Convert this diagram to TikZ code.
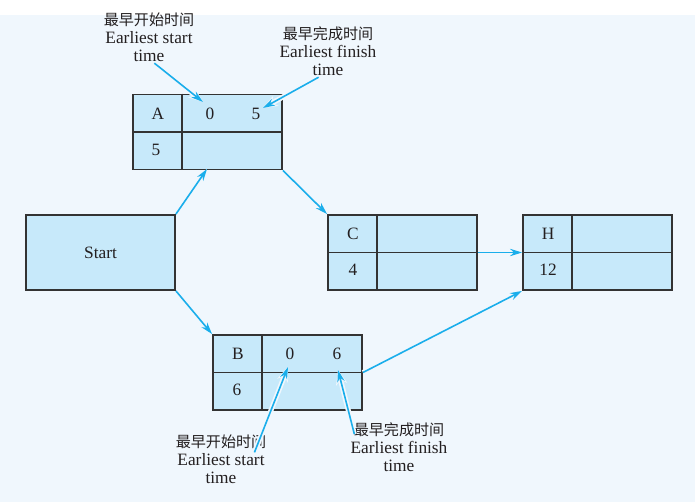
\documentclass[tikz,border=0pt]{standalone}
\usepackage{fontspec}
\setmainfont{Liberation Serif}
\newfontfamily\cjk{Noto Sans CJK SC}
\usetikzlibrary{arrows.meta}
\definecolor{bgblue}{HTML}{F0F7FD}
\definecolor{boxfill}{HTML}{C7E9FA}
\definecolor{boxline}{HTML}{333333}
\definecolor{flowcyan}{HTML}{1AAEEB}
\definecolor{inkgray}{HTML}{231F20}
\newcommand{\cjkline}[1]{{\cjk\fontsize{11.3}{13.6}\selectfont #1}}

\begin{document}
\begin{tikzpicture}[x=0.75pt, y=-0.75pt,
    actbox/.style={rectangle, draw=boxline, fill=boxfill, line width=1.4pt, minimum width=111.75pt, minimum height=56.25pt, inner sep=0pt, text=inkgray, font=\fontsize{13}{14}\selectfont},
    divider/.style={draw=boxline, line width=1.4pt},
    entry/.style={text=inkgray, font=\fontsize{13}{14}\selectfont, inner sep=2pt},
    note/.style={text=inkgray, align=center, font=\fontsize{13}{13.6}\selectfont, inner sep=1pt},
    arrow/.style={-{Stealth[length=9pt,width=5.5pt]}, draw=flowcyan, line width=1.2pt,
        preaction={draw=bgblue, line width=3.8pt, -{Stealth[length=11pt,width=8.5pt]}}}
]
\useasboundingbox (0,0) rectangle (695,502);
\fill[white] (0,0) rectangle (695,502);
\fill[bgblue] (0,15) rectangle (695,502);

% activity boxes
\node[actbox] (start) at (100.5,252.5) {Start};
\node[actbox] (a) at (207.5,132) {};
\node[actbox] (b) at (287.5,372.5) {};
\node[actbox] (c) at (402.5,252.5) {};
\node[actbox] (h) at (597.5,252.5) {};

\foreach \act in {a,b,c,h} {
    \draw[divider] ([xshift=37.125pt]\act.north west) -- ([xshift=37.125pt]\act.south west);
    \draw[divider] (\act.west) -- (\act.east);
}

% entries
\node[entry] (a-name) at (158,114) {A};
\node[entry] (a-es) at (210,114) {0};
\node[entry] (a-ef) at (256,114) {5};
\node[entry] (a-dur) at (156,150) {5};

\node[entry] (b-name) at (238,354) {B};
\node[entry] (b-es) at (290,354) {0};
\node[entry] (b-ef) at (337,354) {6};
\node[entry] (b-dur) at (237,390) {6};

\node[entry] (c-name) at (353,234) {C};
\node[entry] (c-dur) at (353,270) {4};

\node[entry] (h-name) at (548,234) {H};
\node[entry] (h-dur) at (548,270) {12};

% flow
\coordinate (a-in) at (207,169);
\draw[arrow] (start.north east) -- (a-in);
\draw[arrow] (start.south east) -- (b.north west);
\draw[arrow] (a.south east) -- (c.north west);
\draw[arrow] (c.east) -- (h.west);
\draw[arrow] (b.east) -- (h.south west);

% notes
\node[note] (esa) at (149,37) {\cjkline{最早开始时间}\\Earliest start\\time};
\node[note] (efa) at (328,51) {\cjkline{最早完成时间}\\Earliest finish\\time};
\node[note] (esb) at (221,459) {\cjkline{最早开始时间}\\Earliest start\\time};
\node[note] (efb) at (399,447) {\cjkline{最早完成时间}\\Earliest finish\\time};

\coordinate (a-es-tip) at (203,102);
\coordinate (a-ef-tip) at (263,108);
\coordinate (b-es-tip) at (288,367);
\coordinate (b-ef-tip) at (338,370);

\draw[arrow] ([xshift=4pt]esa.south) -- (a-es-tip);
\draw[arrow] ([xshift=-7pt]efa.south) -- (a-ef-tip);
\draw[arrow] ([xshift=-10pt,yshift=5pt]esb.east) -- (b-es-tip);
\draw[arrow] ([xshift=4pt,yshift=-10pt]efb.north west) -- (b-ef-tip);

\end{tikzpicture}
\end{document}
